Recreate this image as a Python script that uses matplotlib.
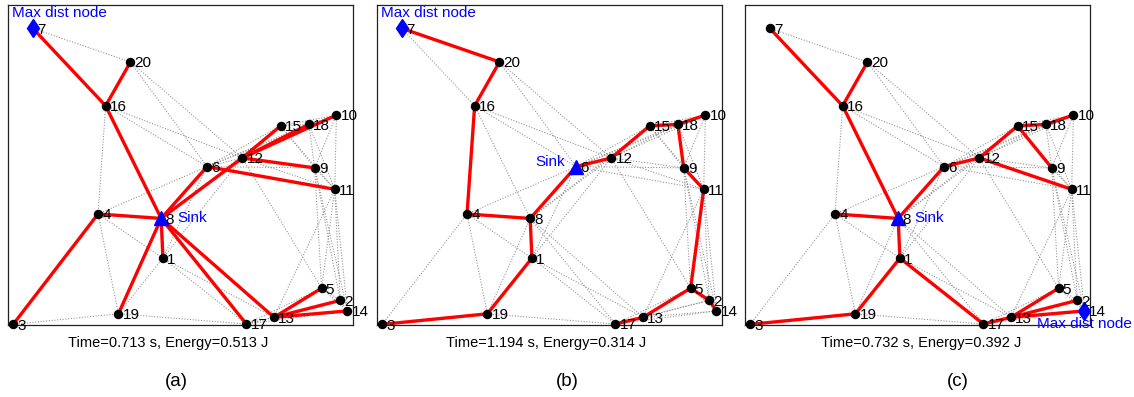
import matplotlib.pyplot as plt

plt.rcParams['font.family'] = ['Liberation Sans', 'DejaVu Sans']

# node positions, node n -> node_x[n-1], node_y[n-1] (field scaled to 0..100)
node_x = [44.9, 96.3, 1.5, 26.1, 90.9, 57.7, 7.2, 44.4, 88.9, 95.2,
          94.7, 67.9, 77.1, 98.4, 79.0, 28.3, 69.1, 87.2, 32.0, 35.5]
node_y = [20.9, 7.7, 0.2, 34.7, 11.5, 49.5, 92.7, 33.3, 49.1, 65.6,
          42.4, 52.2, 2.4, 4.4, 62.2, 68.5, 0.3, 62.7, 3.5, 82.2]

# radio links between nodes (gray dotted)
links = [(7, 20), (7, 16), (20, 16), (20, 6), (20, 12),
         (16, 4), (16, 8), (16, 6), (16, 12),
         (4, 8), (4, 1), (4, 3), (4, 19), (4, 6),
         (8, 1), (8, 19), (8, 6), (8, 12), (8, 15), (8, 17), (8, 13),
         (1, 19), (1, 6), (1, 12), (1, 17), (1, 13),
         (3, 19), (19, 17),
         (6, 12), (6, 15), (6, 18), (6, 10), (6, 9), (6, 11),
         (12, 15), (12, 18), (12, 10), (12, 9), (12, 11), (12, 5),
         (15, 18), (15, 10), (15, 9), (15, 11),
         (18, 10), (18, 9), (18, 11), (10, 9), (10, 11),
         (9, 11), (9, 5), (9, 2), (9, 14),
         (11, 5), (11, 2), (11, 14), (11, 13),
         (17, 13), (17, 5), (17, 2), (17, 14),
         (13, 5), (13, 2), (13, 14), (5, 2), (5, 14), (2, 14)]

# routing trees (red)
tree_a = [(7, 16), (20, 16), (16, 8), (4, 8), (3, 4), (19, 8), (1, 8),
          (17, 8), (13, 8), (5, 13), (2, 13), (14, 13), (6, 8), (12, 8),
          (15, 12), (18, 12), (10, 12), (9, 12), (11, 6)]
tree_b = [(7, 20), (20, 16), (16, 4), (4, 8), (8, 6), (8, 1), (1, 19),
          (19, 3), (6, 12), (12, 15), (15, 18), (18, 10), (18, 9), (9, 11),
          (11, 5), (5, 2), (2, 14), (5, 13), (13, 17)]
tree_c = [(7, 16), (20, 16), (16, 8), (4, 8), (8, 6), (6, 12), (12, 15),
          (15, 18), (18, 10), (15, 9), (12, 11), (8, 1), (1, 19), (19, 3),
          (1, 17), (17, 13), (13, 5), (13, 2), (13, 14)]

trees = [tree_a, tree_b, tree_c]
sinks = [8, 6, 8]
far_nodes = [7, 7, 14]
times = [0.713, 1.194, 0.732]
energies = [0.513, 0.314, 0.392]
tags = ['(a)', '(b)', '(c)']

W, H = 1134, 397
fig = plt.figure(figsize=(W / 100, H / 100), dpi=100)
lefts = [8, 377, 745]
caption_x = [168, 546, 921]   # pixel centres of the Time/Energy lines
tag_x = [176, 567, 958]       # pixel centres of (a), (b), (c)

for p in range(3):
    ax = fig.add_axes([lefts[p] / W, (H - 325) / H, 345 / W, 320 / H])
    ax.set_xlim(0, 100)
    ax.set_ylim(0, 100)
    ax.set_xticks([])
    ax.set_yticks([])
    for s in ax.spines.values():
        s.set_linewidth(0.9)
        s.set_color('#222222')

    for i, j in links:
        ax.plot([node_x[i - 1], node_x[j - 1]], [node_y[i - 1], node_y[j - 1]],
                ls=':', color='#8a8a8a', lw=0.75, zorder=1)
    for i, j in trees[p]:
        ax.plot([node_x[i - 1], node_x[j - 1]], [node_y[i - 1], node_y[j - 1]],
                color='red', lw=2.4, zorder=2, solid_capstyle='round')

    for n in range(1, 21):
        x, y = node_x[n - 1], node_y[n - 1]
        if n == sinks[p]:
            ax.plot(x, y, marker='^', color='blue', ms=10, zorder=3, clip_on=False)
        elif n == far_nodes[p]:
            ax.plot(x, y, marker='d', color='blue', ms=9.5, zorder=3, clip_on=False)
        else:
            ax.plot(x, y, marker='o', color='black', ms=5.8, zorder=3, clip_on=False)
        ax.annotate(str(n), (x, y), xytext=(3, -1), textcoords='offset points',
                    ha='left', va='center', fontsize=11, zorder=4)

    # sink label
    sx, sy = node_x[sinks[p] - 1], node_y[sinks[p] - 1]
    if p == 1:
        ax.annotate('Sink', (sx, sy), xytext=(-8, 3), textcoords='offset points',
                    ha='right', va='center', fontsize=11, color='blue')
    else:
        ax.annotate('Sink', (sx, sy), xytext=(12, 0), textcoords='offset points',
                    ha='left', va='center', fontsize=11, color='blue')

    # max distance node label
    fx, fy = node_x[far_nodes[p] - 1], node_y[far_nodes[p] - 1]
    if p == 2:
        ax.annotate('Max dist node', (fx, fy), xytext=(0, -9.5), textcoords='offset points',
                    ha='center', va='center', fontsize=11, color='blue')
    else:
        ax.annotate('Max dist node', (fx, fy), xytext=(-15, 11), textcoords='offset points',
                    ha='left', va='center', fontsize=11, color='blue')

    fig.text(caption_x[p] / W, (H - 343) / H,
             f'Time={times[p]:.3f} s, Energy={energies[p]:.3f} J',
             ha='center', va='center', fontsize=10.5)
    fig.text(tag_x[p] / W, (H - 382) / H, tags[p],
             ha='center', va='center', fontsize=13.5)

fig.savefig('out.png', dpi=100)
